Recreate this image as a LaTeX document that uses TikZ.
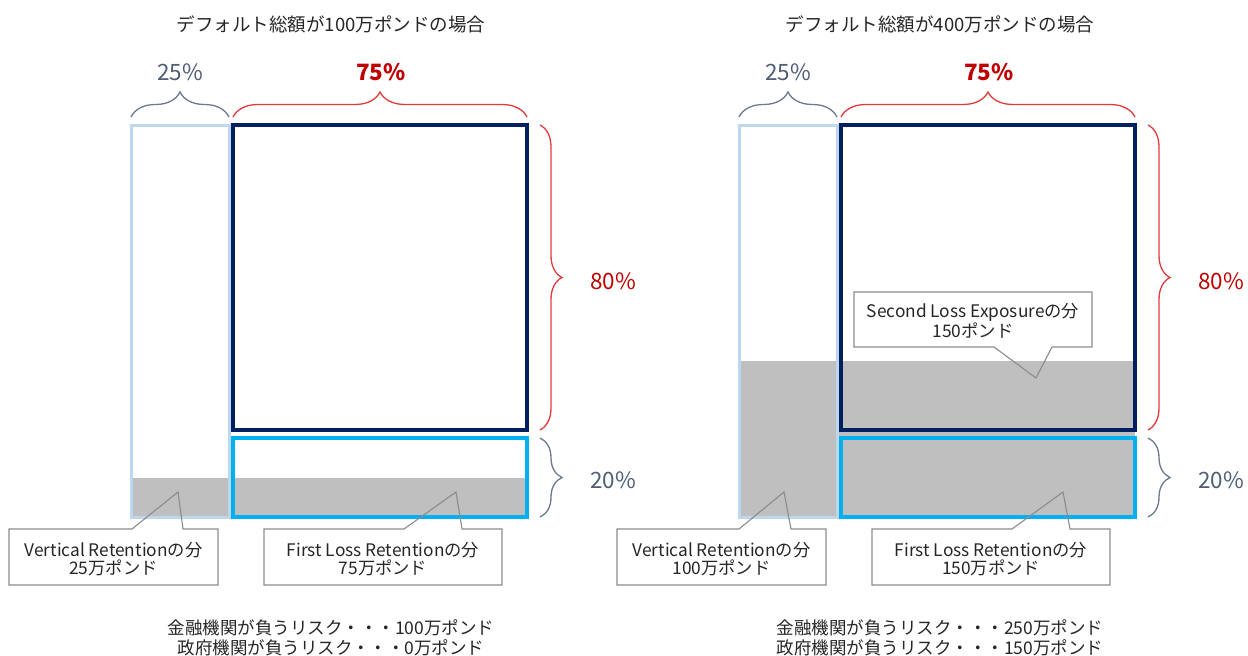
\documentclass[tikz,border=0pt]{standalone}
\usepackage{fontspec}
\setmainfont{Noto Sans CJK JP}
\usetikzlibrary{decorations.pathreplacing}
\definecolor{lightcol}{HTML}{BDD7EE}
\definecolor{navy}{HTML}{002060}
\definecolor{bright}{HTML}{00B0F0}
\definecolor{grayfill}{HTML}{BFBFBF}
\definecolor{slate}{HTML}{4F5D75}
\definecolor{slatebrace}{HTML}{6B7A90}
\definecolor{redtxt}{HTML}{C00000}
\definecolor{redbrace}{HTML}{E5393B}
\definecolor{txt}{HTML}{262626}
\definecolor{cgray}{HTML}{8C8C8C}
\begin{document}
\begin{tikzpicture}[x=1pt,y=-1pt,
  titletext/.style={font=\fontsize{18.5}{22}\selectfont, text=txt, inner sep=0pt},
  pct/.style={font=\fontsize{22.5}{24}\selectfont, inner sep=0pt},
  calltext/.style={font=\fontsize{17.3}{18.5}\selectfont, align=center, inner sep=0pt, text=txt},
  bottomtext/.style={font=\fontsize{17.5}{19.5}\selectfont, align=center, inner sep=0pt, text=txt},
  callout/.style={draw=cgray, line width=1.1pt, line join=miter},
  calloutbg/.style={fill=white},
  colbox/.style={draw=lightcol, line width=3pt},
  navybox/.style={draw=navy, line width=3.5pt},
  brightbox/.style={draw=bright, line width=3.5pt},
  topbrace/.style={decorate, decoration={brace, amplitude=25pt}, line width=1.3pt},
  sidebrace/.style={decorate, decoration={brace, amplitude=22pt}, line width=1.3pt}
]
\useasboundingbox (0,0) rectangle (1248,656);
\fill[white] (0,0) rectangle (1248,656);

% ================= LEFT PANEL =================
\node[titletext] (titleL) at (331,24) {デフォルト総額が100万ポンドの場合};
\node[pct, text=slate] (p25L) at (180,72) {25\%};
\node[pct, text=redtxt, font=\fontsize{22.5}{24}\selectfont\bfseries] (p75L) at (381,72) {75\%};

\fill[grayfill] (131,478) rectangle (527,517);
\draw[colbox] (131,125) rectangle (229,517);
\draw[navybox] (233,125) rectangle (527,430);
\draw[brightbox] (233,438) rectangle (527,517);

\draw[topbrace, draw=slatebrace] (131,117) -- (229,117);
\draw[topbrace, draw=redbrace] (233,117) -- (527,117);
\draw[sidebrace, draw=redbrace] (540,125) -- (540,430);
\draw[sidebrace, draw=slatebrace] (540,438) -- (540,517);
\node[pct, text=redtxt] (p80L) at (613,281) {80\%};
\node[pct, text=slate] (p20L) at (613,480) {20\%};

% callouts
\fill[calloutbg] (9,529) rectangle (218,585);
\draw[callout] (132,529) -- (178,492) -- (183,529) -- (218,529) -- (218,585) -- (9,585) -- (9,529) -- cycle;
\node[calltext] (vrL) at (113.5,559) {Vertical Retentionの分\\25万ポンド};

\fill[calloutbg] (264,529) rectangle (502,585);
\draw[callout] (404,529) -- (456,492) -- (462,529) -- (502,529) -- (502,585) -- (264,585) -- (264,529) -- cycle;
\node[calltext] (flL) at (383,559) {First Loss Retentionの分\\75万ポンド};

\node[bottomtext] (sumL) at (331,638) {金融機関が負うリスク・・・100万ポンド\\政府機関が負うリスク・・・0万ポンド};

% ================= RIGHT PANEL =================
\node[titletext] (titleR) at (940,24) {デフォルト総額が400万ポンドの場合};
\node[pct, text=slate] (p25R) at (788,72) {25\%};
\node[pct, text=redtxt, font=\fontsize{22.5}{24}\selectfont\bfseries] (p75R) at (989,72) {75\%};

\fill[grayfill] (739,361) rectangle (1135,517);
\draw[colbox] (739,125) rectangle (837,517);
\draw[navybox] (841,125) rectangle (1135,430);
\draw[brightbox] (841,438) rectangle (1135,517);

\draw[topbrace, draw=slatebrace] (739,117) -- (837,117);
\draw[topbrace, draw=redbrace] (841,117) -- (1135,117);
\draw[sidebrace, draw=redbrace] (1148,125) -- (1148,430);
\draw[sidebrace, draw=slatebrace] (1148,438) -- (1148,517);
\node[pct, text=redtxt] (p80R) at (1221,281) {80\%};
\node[pct, text=slate] (p20R) at (1221,480) {20\%};

\fill[calloutbg] (854,292) rectangle (1092,347);
\draw[callout] (854,292) -- (1092,292) -- (1092,347) -- (1052,347) -- (1036,378) -- (994,347) -- (854,347) -- cycle;
\node[calltext] (slR) at (973,321) {Second Loss Exposureの分\\150ポンド};

\fill[calloutbg] (617,529) rectangle (826,585);
\draw[callout] (739,529) -- (784,492) -- (791,529) -- (826,529) -- (826,585) -- (617,585) -- (617,529) -- cycle;
\node[calltext] (vrR) at (721.5,559) {Vertical Retentionの分\\100万ポンド};

\fill[calloutbg] (872,529) rectangle (1110,585);
\draw[callout] (1012,529) -- (1063,492) -- (1070,529) -- (1110,529) -- (1110,585) -- (872,585) -- (872,529) -- cycle;
\node[calltext] (flR) at (991,559) {First Loss Retentionの分\\150万ポンド};

\node[bottomtext] (sumR) at (940,638) {金融機関が負うリスク・・・250万ポンド\\政府機関が負うリスク・・・150万ポンド};
\end{tikzpicture}
\end{document}
